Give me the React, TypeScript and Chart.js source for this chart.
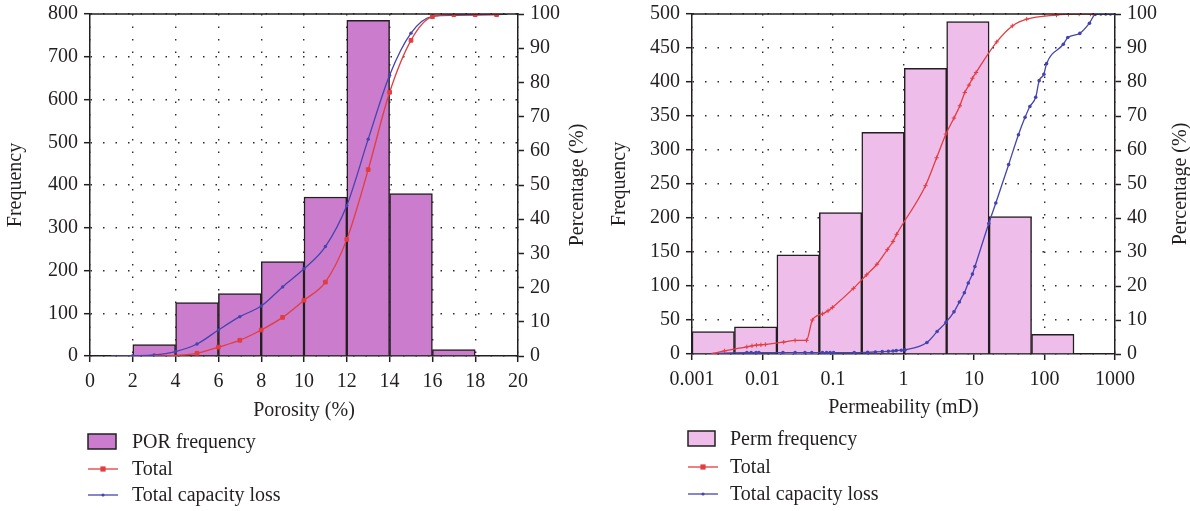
import React, { useEffect, useRef } from 'react';
import { Chart, registerables } from 'chart.js';

Chart.register(...registerables);

const FAMILY = "'Liberation Serif', 'DejaVu Serif', serif";
const INK = '#231f20';
const GRID = '#2a2a2a';
const RED = '#e23d3f';
const BLUE = '#4444b0';

// ---------- Porosity panel ----------
const porBinLo = [2, 4, 6, 8, 10, 12, 14, 16];
const porBinHi = [4, 6, 8, 10, 12, 14, 16, 18];
const porFreq = [27, 125, 146, 221, 372, 785, 380, 15];
const porTotalX = [3, 4, 5, 6, 7, 8, 9, 10, 11, 12, 13, 14, 15, 16, 17, 18, 19];
const porTotalPct = [0, 0.2, 0.8, 2.6, 4.6, 7.6, 11.3, 16.3, 21.6, 34.1, 54.5, 77.1, 92.3, 99.2, 99.8, 99.8, 99.8];
const porLossX = [1, 2, 3, 4, 5, 6, 7, 8, 9, 10, 11, 12, 13, 14, 15, 16, 17, 18, 19, 19.5];
const porLossPct = [0, 0.1, 0.3, 1.3, 3.5, 7.6, 11.5, 14.6, 20.2, 25.5, 32, 44, 63.4, 82.1, 94.4, 99.3, 99.6, 99.7, 99.8, 99.9];
const porXTicks = [0, 2, 4, 6, 8, 10, 12, 14, 16, 18, 20];
const porXTickLabels = ['0', '2', '4', '6', '8', '10', '12', '14', '16', '18', '20'];

// ---------- Permeability panel ----------
const permBinLo = [0.001, 0.004, 0.016, 0.064, 0.256, 1.024, 4.096, 16.384, 65.536];
const permBinHi = [0.004, 0.016, 0.064, 0.256, 1.024, 4.096, 16.384, 65.536, 262.144];
const permFreq = [33, 40, 146, 208, 326, 420, 489, 202, 29];
const permTotalK = [0.0019, 0.0029, 0.006, 0.0071, 0.0082, 0.0095, 0.011, 0.02, 0.029, 0.042, 0.051, 0.071, 0.085, 0.098, 0.195, 0.3, 0.42, 0.59, 0.71, 0.8, 2.05, 2.95, 4.0, 5.2, 6.3, 7.4, 8.5, 9.5, 10.7, 21, 35, 56, 148, 218, 310, 450, 490];
const permTotalPct = [0, 0.9, 2.1, 2.4, 2.6, 2.7, 2.8, 3.5, 4.0, 4.0, 10.0, 11.8, 12.7, 13.7, 19.3, 23.3, 26.4, 30.7, 33.1, 35.2, 49.5, 57.7, 64.7, 69.4, 73.0, 76.9, 79.1, 81.1, 82.8, 91.8, 96.5, 98.5, 99.7, 99.9, 100, 100, 100];
const permLossK = [0.0019, 0.006, 0.0069, 0.0081, 0.0089, 0.0195, 0.029, 0.04, 0.05, 0.071, 0.081, 0.091, 0.102, 0.2, 0.31, 0.4, 0.5, 0.61, 0.71, 0.79, 0.93, 1.05, 2.15, 3.0, 4.0, 5.2, 6.2, 7.3, 8.3, 9.5, 10.3, 16.2, 20.4, 31, 42.7, 53, 62, 75, 84, 98, 107, 185, 214, 317, 434, 525, 630, 740, 860, 1000];
const permLossPct = [0.2, 0.4, 0.4, 0.4, 0.4, 0.4, 0.4, 0.4, 0.4, 0.4, 0.4, 0.4, 0.4, 0.4, 0.5, 0.6, 0.7, 0.8, 0.9, 1.0, 1.1, 1.2, 3.4, 6.6, 9.3, 12.4, 15.3, 18.0, 20.9, 23.5, 25.7, 38.4, 44.4, 55.7, 64.5, 69.6, 72.8, 75.5, 80.4, 82.3, 85.4, 91.1, 93.1, 94.3, 97.3, 99.9, 100, 100, 100, 100];
const permXTicks = [0.001, 0.01, 0.1, 1, 10, 100, 1000];
const permXTickLabels = ['0.001', '0.01', '0.1', '1', '10', '100', '1000'];

const freqTitle = 'Frequency';
const pctTitle = 'Percentage (%)';
const pctMax = 100;
const pctStep = 10;

type Spec = {
  xType: 'linear' | 'logarithmic';
  xMin: number; xMax: number;
  xTicks: number[]; xTickLabels: string[];
  xTitle: string;
  yMax: number; yStep: number;
  barLabel: string; barColor: string;
  binLo: number[]; binHi: number[]; freq: number[];
  totalX: number[]; totalPct: number[]; totalStyle: string; totalRadius: number; totalSkip: number;
  lossX: number[]; lossPct: number[]; lossRadius: number;
  lay: {
    top: number; bottom: number; yW: number; y1W: number; xH: number;
    yTitlePad: number; xTitlePad: number; y1TitleOff: number;
    legX: number; legTextX: number; legRows: number[]; boxW: number; boxH: number;
  };
  font: number;
};

function drawMarker(ctx: CanvasRenderingContext2D, style: string, x: number, y: number, r: number, color: string) {
  ctx.save();
  ctx.fillStyle = color;
  ctx.strokeStyle = color;
  ctx.lineWidth = 1.2;
  if (style === 'rect') {
    ctx.fillRect(x - r, y - r, 2 * r, 2 * r);
  } else if (style === 'cross') {
    ctx.beginPath();
    ctx.moveTo(x - r, y); ctx.lineTo(x + r, y);
    ctx.moveTo(x, y - r); ctx.lineTo(x, y + r);
    ctx.stroke();
  } else {
    ctx.beginPath();
    ctx.arc(x, y, r, 0, Math.PI * 2);
    ctx.fill();
  }
  ctx.restore();
}

function makeConfig(s: Spec): any {
  const font = { family: FAMILY, size: s.font };
  const yFont = { family: FAMILY, size: s.font, lineHeight: 0.8 };
  const L = s.lay;
  const overlay = {
    id: 'overlay',
    afterDraw(chart: any) {
      const { ctx, chartArea: a } = chart;
      ctx.save();
      // top frame line
      ctx.strokeStyle = INK;
      ctx.lineWidth = 1.5;
      ctx.beginPath();
      ctx.moveTo(a.left - 0.75, a.top);
      ctx.lineTo(a.right + 0.75, a.top);
      ctx.stroke();
      // right axis title, reading bottom-to-top
      ctx.font = `${s.font}px ${FAMILY}`;
      ctx.fillStyle = INK;
      ctx.textAlign = 'center';
      ctx.textBaseline = 'middle';
      ctx.save();
      ctx.translate(a.right + L.y1TitleOff, (a.top + a.bottom) / 2);
      ctx.rotate(-Math.PI / 2);
      ctx.fillText(pctTitle, 0, 0);
      ctx.restore();
      // stacked legend
      const ds = chart.data.datasets;
      ctx.textAlign = 'left';
      ds.forEach((d: any, i: number) => {
        const cy = L.legRows[i];
        if (d.type === 'bar') {
          ctx.fillStyle = d.backgroundColor;
          ctx.fillRect(L.legX, cy - L.boxH / 2, L.boxW, L.boxH);
          ctx.strokeStyle = INK;
          ctx.lineWidth = 1.5;
          ctx.strokeRect(L.legX, cy - L.boxH / 2, L.boxW, L.boxH);
        } else {
          ctx.strokeStyle = d.borderColor;
          ctx.lineWidth = 1.3;
          ctx.beginPath();
          ctx.moveTo(L.legX, cy);
          ctx.lineTo(L.legX + 30, cy);
          ctx.stroke();
          drawMarker(ctx, d.legendMarker, L.legX + 15, cy, d.legendRadius, d.borderColor);
        }
        ctx.fillStyle = INK;
        ctx.font = `${s.font}px ${FAMILY}`;
        ctx.fillText(d.label, L.legTextX, cy + 1);
      });
      ctx.restore();
    },
  };

  const bars = s.freq.map((f, i) => ({
    x: s.xType === 'logarithmic' ? Math.sqrt(s.binLo[i] * s.binHi[i]) : (s.binLo[i] + s.binHi[i]) / 2,
    y: f,
  }));
  const total = s.totalX.map((x, i) => ({ x, y: s.totalPct[i] }));
  const loss = s.lossX.map((x, i) => ({ x, y: s.lossPct[i] }));

  return {
    type: 'line',
    data: {
      datasets: [
        {
          type: 'bar', label: s.barLabel, data: bars, yAxisID: 'y', order: 3,
          backgroundColor: s.barColor, borderColor: INK, borderWidth: 1.5,
          barPercentage: 1, categoryPercentage: 1,
        },
        {
          type: 'line', label: 'Total', data: total, yAxisID: 'y1', order: 1,
          borderColor: RED, backgroundColor: RED, borderWidth: 1.3,
          pointStyle: s.totalStyle, legendMarker: 'rect', legendRadius: 2.6,
          pointRadius: (c: any) => (c.dataIndex < s.totalSkip ? 0 : s.totalRadius),
          pointBorderWidth: 1, cubicInterpolationMode: 'monotone', fill: false,
        },
        {
          type: 'line', label: 'Total capacity loss', data: loss, yAxisID: 'y1', order: 2,
          borderColor: BLUE, backgroundColor: BLUE, borderWidth: 1.3,
          pointStyle: 'circle', legendMarker: 'circle', legendRadius: 1.6,
          pointRadius: (c: any) => (c.dataIndex === 0 || c.dataIndex === s.lossX.length - 1 && s.xType === 'linear' ? 0 : s.lossRadius),
          pointBorderWidth: 0, cubicInterpolationMode: 'monotone', fill: false,
        },
      ],
    },
    options: {
      responsive: false,
      maintainAspectRatio: false,
      animation: false,
      events: [],
      layout: { padding: { top: L.top, bottom: L.bottom, left: 0, right: 0 } },
      plugins: { legend: { display: false }, tooltip: { enabled: false } },
      scales: {
        x: {
          type: s.xType, position: 'bottom', min: s.xMin, max: s.xMax, offset: false,
          afterBuildTicks: (sc: any) => { sc.ticks = s.xTicks.map((v) => ({ value: v })); },
          afterFit: (sc: any) => { sc.height = L.xH; },
          ticks: {
            autoSkip: false, maxRotation: 0, minRotation: 0, color: INK, font, padding: 8,
            callback: (v: number) => {
              const i = s.xTicks.findIndex((t) => Math.abs(t - v) < t * 1e-6 + 1e-12);
              return i >= 0 ? s.xTickLabels[i] : '';
            },
          },
          grid: { color: GRID, lineWidth: 1.4, tickLength: 6, tickColor: INK, tickWidth: 1.5, offset: false },
          border: { color: INK, width: 1.5, dash: [1.5, 11] },
          title: { display: true, text: s.xTitle, color: INK, font, padding: { top: 0, bottom: L.xTitlePad } },
        },
        y: {
          type: 'linear', position: 'left', min: 0, max: s.yMax,
          afterFit: (sc: any) => { sc.width = L.yW; },
          ticks: { stepSize: s.yStep, color: INK, font: yFont, padding: 6 },
          grid: { color: GRID, lineWidth: 1.4, tickLength: 6, tickColor: INK, tickWidth: 1.5 },
          border: { color: INK, width: 1.5, dash: [1.5, 11] },
          title: { display: true, text: freqTitle, color: INK, font, padding: { top: L.yTitlePad, bottom: 0 } },
        },
        y1: {
          type: 'linear', position: 'right', min: 0, max: pctMax,
          afterFit: (sc: any) => { sc.width = L.y1W; },
          ticks: { stepSize: pctStep, color: INK, font: yFont, padding: 6 },
          grid: { drawOnChartArea: false, tickLength: 6, tickColor: INK, tickWidth: 1.5 },
          border: { color: INK, width: 1.5 },
        },
      },
    },
    plugins: [overlay],
  };
}

const porSpec: Spec = {
  xType: 'linear', xMin: 0, xMax: 20, xTicks: porXTicks, xTickLabels: porXTickLabels,
  xTitle: 'Porosity (%)', yMax: 800, yStep: 100,
  barLabel: 'POR frequency', barColor: '#cb7ccc',
  binLo: porBinLo, binHi: porBinHi, freq: porFreq,
  totalX: porTotalX, totalPct: porTotalPct, totalStyle: 'rect', totalRadius: 2.6, totalSkip: 2,
  lossX: porLossX, lossPct: porLossPct, lossRadius: 1.7,
  font: 20,
  lay: {
    top: 12, bottom: 85, yW: 90, y1W: 77, xH: 70,
    yTitlePad: 4, xTitlePad: 3, y1TitleOff: 60,
    legX: 88, legTextX: 132, legRows: [441.5, 469, 495], boxW: 28, boxH: 15,
  },
};

const permSpec: Spec = {
  xType: 'logarithmic', xMin: 0.001, xMax: 1000, xTicks: permXTicks, xTickLabels: permXTickLabels,
  xTitle: 'Permeability (mD)', yMax: 500, yStep: 50,
  barLabel: 'Perm frequency', barColor: '#eebdea',
  binLo: permBinLo, binHi: permBinHi, freq: permFreq,
  totalX: permTotalK, totalPct: permTotalPct, totalStyle: 'cross', totalRadius: 2.2, totalSkip: 1,
  lossX: permLossK, lossPct: permLossPct, lossRadius: 1.8,
  font: 20,
  lay: {
    top: 8, bottom: 85, yW: 97, y1W: 75, xH: 72,
    yTitlePad: 13, xTitlePad: 6, y1TitleOff: 66,
    legX: 93, legTextX: 135, legRows: [438.5, 467, 494], boxW: 27, boxH: 15,
  },
};

function Panel({ spec }: { spec: Spec }) {
  const ref = useRef<HTMLCanvasElement | null>(null);
  useEffect(() => {
    if (!ref.current) return;
    const chart = new Chart(ref.current, makeConfig(spec));
    return () => chart.destroy();
  }, [spec]);
  return (
    <div style={{ width: 595, height: 511 }}>
      <canvas ref={ref} width={595} height={511} style={{ display: 'block', width: 595, height: 511 }} />
    </div>
  );
}

export default function App() {
  return (
    <div style={{ position: 'fixed', left: 0, top: 0, width: 1190, height: 511, display: 'flex', background: '#ffffff' }}>
      <Panel spec={porSpec} />
      <Panel spec={permSpec} />
    </div>
  );
}
